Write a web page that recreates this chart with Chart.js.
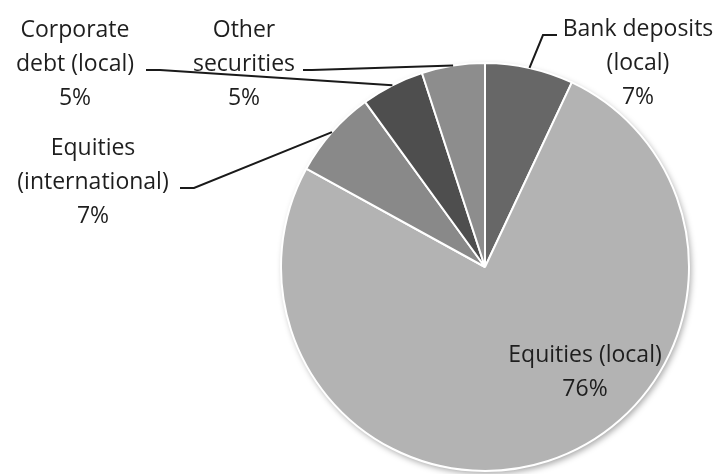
<!DOCTYPE html>
<html>
<head>
<meta charset="utf-8">
<script src="https://cdn.jsdelivr.net/npm/chart.js@4.4.0/dist/chart.umd.min.js"></script>
<style>
  html, body { margin: 0; padding: 0; background: #fff; }
  #wrap { width: 719px; height: 474px; position: relative; }
</style>
</head>
<body>
<div id="wrap"><canvas id="pie"></canvas></div>
<script>
// Portfolio split, clockwise from 12 o'clock
const categories = ['Bank deposits (local)', 'Equities (local)', 'Equities (international)', 'Corporate debt (local)', 'Other securities'];
const shares = [7, 76, 7, 5, 5];
const sliceColors = ['#676767', '#b3b3b3', '#898989', '#4e4e4e', '#8d8d8d'];

// label text lines + placement (baseline of first line), and leader elbows
const labelLines = [
    ['Bank deposits', '(local)', '7%'],
    ['Equities (local)', '76%'],
    ['Equities', '(international)', '7%'],
    ['Corporate', 'debt (local)', '5%'],
    ['Other', 'securities', '5%']
];
const labelPos = [
    { x: 638, y: 36 },
    { x: 585, y: 362 },
    { x: 93, y: 155 },
    { x: 75, y: 37 },
    { x: 244, y: 37 }
];
// leader line points (from label end towards slice); null = no leader
const leaderStart = [
    [[557, 35], [543, 35]],
    null,
    [[180, 188], [194, 188]],
    [[146, 70], [160, 70]],
    [[303, 70], [312, 70]]
];

const FONT = '23px "Open Sans", sans-serif';
const LINE_H = 34;

const pieShadow = {
    id: 'pieShadow',
    beforeDatasetsDraw(chart) {
        const arc = chart.getDatasetMeta(0).data[0];
        if (!arc) return;
        const ctx = chart.ctx;
        ctx.save();
        ctx.shadowColor = 'rgba(0,0,0,0.35)';
        ctx.shadowBlur = 6;
        ctx.shadowOffsetX = 2;
        ctx.shadowOffsetY = 3;
        ctx.fillStyle = '#fff';
        ctx.beginPath();
        ctx.arc(arc.x, arc.y, arc.outerRadius, 0, Math.PI * 2);
        ctx.fill();
        ctx.restore();
    }
};

const pieLabels = {
    id: 'pieLabels',
    afterDatasetsDraw(chart) {
        const ctx = chart.ctx;
        const meta = chart.getDatasetMeta(0);
        ctx.save();
        ctx.font = FONT;
        ctx.fillStyle = '#1e1e1e';
        ctx.textAlign = 'center';
        ctx.textBaseline = 'alphabetic';
        labelLines.forEach((lines, i) => {
            lines.forEach((t, j) => ctx.fillText(t, labelPos[i].x, labelPos[i].y + j * LINE_H));
        });

        ctx.strokeStyle = '#1a1a1a';
        ctx.lineWidth = 2;
        meta.data.forEach((arc, i) => {
            const pts = leaderStart[i];
            if (!pts) return;
            const mid = (arc.startAngle + arc.endAngle) / 2;
            const ex = arc.x + Math.cos(mid) * arc.outerRadius;
            const ey = arc.y + Math.sin(mid) * arc.outerRadius;
            ctx.beginPath();
            ctx.moveTo(pts[0][0], pts[0][1]);
            ctx.lineTo(pts[1][0], pts[1][1]);
            ctx.lineTo(ex, ey);
            ctx.stroke();
        });
        ctx.restore();
    }
};

new Chart(document.getElementById('pie'), {
    type: 'pie',
    data: {
        labels: categories,
        datasets: [{
            data: shares,
            backgroundColor: sliceColors,
            borderColor: '#ffffff',
            borderWidth: 2
        }]
    },
    options: {
        responsive: true,
        maintainAspectRatio: false,
        animation: false,
        layout: { padding: { left: 280, right: 29, top: 62, bottom: 2 } },
        plugins: {
            legend: { display: false },
            tooltip: { enabled: false }
        }
    },
    plugins: [pieShadow, pieLabels]
});
</script>
</body>
</html>
